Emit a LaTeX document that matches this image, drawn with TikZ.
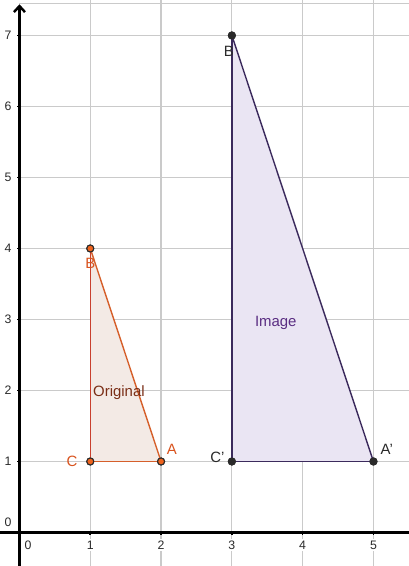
\documentclass[tikz,border=0pt]{standalone}
\usepackage{fontspec}
\setmainfont{Liberation Sans}
\usepackage{tikz}
\usetikzlibrary{arrows.meta,positioning}
\definecolor{gridgray}{HTML}{CACACA}
\definecolor{origedge}{HTML}{D65F2A}
\definecolor{origleft}{HTML}{C8402E}
\definecolor{origfill}{HTML}{F3EAE5}
\definecolor{origpt}{HTML}{F0641E}
\definecolor{origlbl}{HTML}{D9531E}
\definecolor{origtext}{HTML}{7A2E16}
\definecolor{imgedge}{HTML}{3B2A5C}
\definecolor{imgfill}{HTML}{EAE5F3}
\definecolor{imgtext}{HTML}{5A2D82}
\definecolor{ptdark}{HTML}{2A2A2A}

\begin{document}
\begin{tikzpicture}[x=1.416cm,y=1.42cm,
  gridline/.style={draw=gridgray,line width=0.7pt},
  axis/.style={draw=black,line width=1.4pt},
  ticklbl/.style={font=\fontsize{7}{8}\selectfont,fill=white,inner sep=1pt,text=ptdark},
  origline/.style={draw=origedge,line width=0.8pt},
  imgline/.style={draw=imgedge,line width=0.8pt},
  opt/.style={circle,draw=ptdark,fill=origpt,line width=0.6pt,minimum size=1.4mm,inner sep=0pt},
  ipt/.style={circle,draw=ptdark,fill=ptdark,line width=0.6pt,minimum size=1.4mm,inner sep=0pt},
  olbl/.style={font=\fontsize{8.5}{10}\selectfont,text=origlbl,inner sep=0pt},
  ilbl/.style={font=\fontsize{8.5}{10}\selectfont,text=ptdark,inner sep=0pt},
  node distance=1mm
]
\useasboundingbox[fill=white] (-0.275,-0.472) rectangle (5.501,7.5);
% grid
\foreach \x in {1,...,5}
  \draw[gridline] (\x,-0.472) -- (\x,7.5);
\foreach \y in {1,...,7}
  \draw[gridline] (0,\y) -- (5.501,\y);
\draw[gridline,line width=0.5pt] (0,7.455) -- (5.501,7.455);
% axes
\draw[axis] (-0.275,0) -- (5.501,0);
\draw[axis,-{Straight Barb[length=1.2mm,width=2.2mm]}] (0,-0.472) -- (0,7.44);
\foreach \x in {1,...,5} {
  \draw[line width=0.9pt] (\x,0) -- (\x,-0.035);
  \node[ticklbl] (tx\x) at (\x,-0.18) {\x};
}
\foreach \y in {1,...,7} {
  \draw[line width=0.9pt] (0,\y) -- (-0.035,\y);
  \node[ticklbl] (ty\y) at (-0.16,\y) {\y};
}
\node[ticklbl] (tx0) at (0.12,-0.18) {0};
\node[ticklbl] (ty0) at (-0.16,0.15) {0};
% original triangle
\coordinate (pA) at (2,1);
\coordinate (pB) at (1,4);
\coordinate (pC) at (1,1);
\fill[origfill] (pA) -- (pB) -- (pC) -- cycle;
% image triangle
\coordinate (qA) at (5,1);
\coordinate (qB) at (3,7);
\coordinate (qC) at (3,1);
\fill[imgfill] (qA) -- (qB) -- (qC) -- cycle;
\node[opt] (A) at (pA) {};
\node[opt] (B) at (pB) {};
\node[opt] (C) at (pC) {};
\node[ipt] (A1) at (qA) {};
\node[ipt] (B1) at (qB) {};
\node[ipt] (C1) at (qC) {};
\draw[origline,draw=origleft] (pC) -- (pB);
\draw[origline] (pB) -- (pA);
\draw[origline] (pA) -- (pC);
\draw[imgline] (qC) -- (qB);
\draw[imgline] (qB) -- (qA);
\draw[imgline] (qA) -- (qC);
% points on top
\node[opt] at (pA) {};
\node[opt] at (pB) {};
\node[opt] at (pC) {};
\node[ipt] at (qA) {};
\node[ipt] at (qB) {};
\node[ipt] at (qC) {};
% labels
\node[olbl,below=1.1mm of B] (lB) {B};
\node[olbl,left=1.7mm of C] (lC) {C};
\node[olbl,above right=0.7mm and 0.5mm of A] (lA) {A};
\node[ilbl,below=1.2mm of B1,xshift=-0.6mm] (lB1) {B};
\node[ilbl,left=0.6mm of C1,yshift=0.8mm] (lC1) {C'};
\node[ilbl,above right=0.7mm and 0.8mm of A1] (lA1) {A'};
\node[font=\fontsize{8.5}{10}\selectfont,text=origtext] (orig) at (1.405,1.965) {Original};
\node[font=\fontsize{8.5}{10}\selectfont,text=imgtext] (img) at (3.62,2.95) {Image};
\end{tikzpicture}
\end{document}
